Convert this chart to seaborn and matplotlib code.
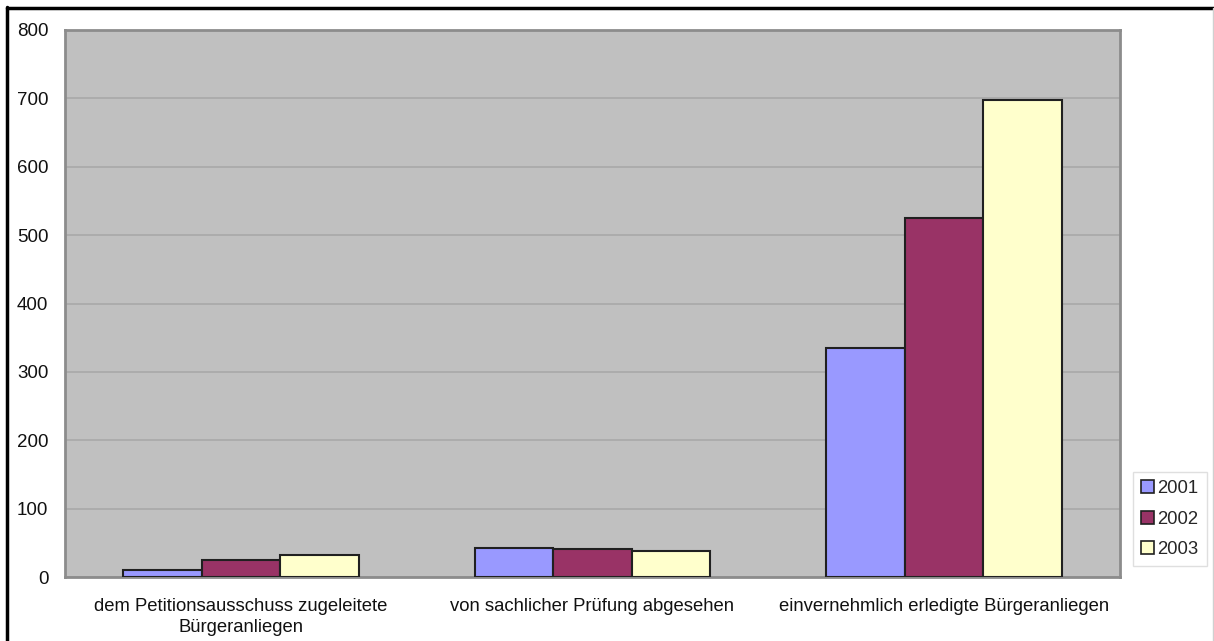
import matplotlib
matplotlib.use("Agg")
import matplotlib.pyplot as plt
from matplotlib.lines import Line2D
from matplotlib.patches import Patch
import seaborn as sns
import pandas as pd

categories = [
    "dem Petitionsausschuss zugeleitete\nBürgeranliegen",
    "von sachlicher Prüfung abgesehen",
    "einvernehmlich erledigte Bürgeranliegen",
]
years = ["2001", "2002", "2003"]
values_2001 = [10, 42, 335]
values_2002 = [25, 41, 525]
values_2003 = [32, 38, 697]
colors = ["#9999FF", "#993366", "#FFFFCC"]
y_ticks = [0, 100, 200, 300, 400, 500, 600, 700, 800]

sns.set_theme(style="white")
plt.rcParams["font.family"] = ["Liberation Sans", "DejaVu Sans"]

rows = []
for year, vals in zip(years, [values_2001, values_2002, values_2003]):
    for cat, v in zip(categories, vals):
        rows.append({"Kategorie": cat, "Jahr": year, "Anzahl": v})
df = pd.DataFrame(rows)

fig = plt.figure(figsize=(12.14, 6.41), dpi=100)
ax = fig.add_axes([0.0535, 0.0998, 0.869, 0.8534])
ax.set_facecolor("#C0C0C0")

sns.barplot(
    data=df, x="Kategorie", y="Anzahl", hue="Jahr",
    order=categories, hue_order=years, palette=colors,
    width=0.67, gap=0, edgecolor="#202020", linewidth=1.5,
    saturation=1, errorbar=None, ax=ax, legend=False, zorder=3,
)

ax.set_xlim(-0.5, len(categories) - 0.5)
ax.set_ylim(0, 800)
ax.set_yticks(y_ticks)
ax.set_yticklabels([str(t) for t in y_ticks], fontsize=13.5, color="#111111")
ax.yaxis.grid(True, color="#A8A8A8", linewidth=1.2, zorder=0)
ax.set_axisbelow(True)

ax.set_xticks(range(len(categories)))
ax.set_xticklabels(categories, fontsize=13.3, color="#111111", linespacing=1.3)
ax.set_xticks([i - 0.5 for i in range(len(categories) + 1)], minor=True)
ax.tick_params(axis="x", which="major", length=0, pad=15)
ax.tick_params(axis="x", which="minor", length=5, width=1, color="#C8C8C8", direction="out")
ax.tick_params(axis="y", which="major", length=5, width=1, color="#C8C8C8", direction="out", pad=7)

ax.set_xlabel("")
ax.set_ylabel("")
for side in ["left", "bottom", "top", "right"]:
    ax.spines[side].set_visible(True)
    ax.spines[side].set_color("#8C8C8C")
    ax.spines[side].set_linewidth(2)

handles = [Patch(facecolor=c, edgecolor="#202020", linewidth=1.2) for c in colors]
leg = fig.legend(
    handles, years, loc="upper left", bbox_to_anchor=(1133 / 1214, 1 - 472 / 641),
    fontsize=13.3, frameon=True, fancybox=False, handlelength=0.7, handleheight=0.7,
    handletextpad=0.15, labelspacing=0.72, borderpad=0.45, borderaxespad=0,
)
leg.get_frame().set_edgecolor("#D8D8D8")
leg.get_frame().set_linewidth(1)

# frame lines along the top and left edges of the figure
fig.add_artist(Line2D([7 / 1214, 7 / 1214], [0, 1 - 7 / 641], color="black", linewidth=2.5,
                      transform=fig.transFigure))
fig.add_artist(Line2D([7 / 1214, 1], [1 - 8 / 641, 1 - 8 / 641], color="black", linewidth=2.5,
                      transform=fig.transFigure))
fig.add_artist(Line2D([1212.5 / 1214, 1212.5 / 1214], [0, 1 - 8 / 641], color="#D0D0D0", linewidth=1,
                      transform=fig.transFigure))

fig.savefig("out.png", dpi=100)
